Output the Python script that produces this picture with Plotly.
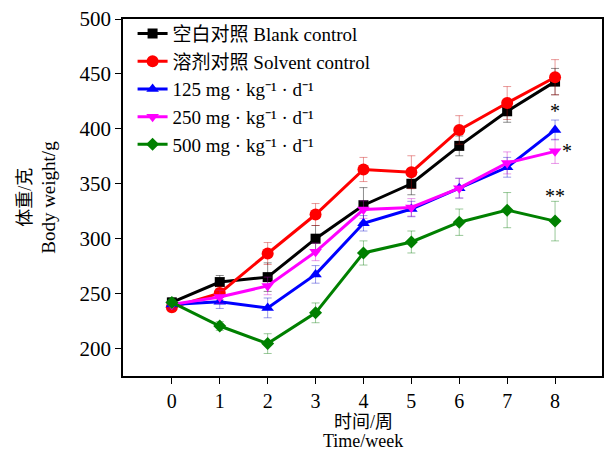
import plotly.graph_objects as go

weeks = [0, 1, 2, 3, 4, 5, 6, 7, 8]
x_tick_labels = ["0", "1", "2", "3", "4", "5", "6", "7", "8"]
y_tick_values = [200, 250, 300, 350, 400, 450, 500]

blank = [242, 260.5, 265, 300, 330.5, 350, 384.5, 416, 443]
blank_err = [4, 6, 13, 12, 16, 10, 9, 10, 12]
solvent = [237.5, 250.5, 286.5, 322, 363, 360.5, 399, 423.5, 447]
solvent_err = [4, 6, 10, 10, 11, 15, 13, 15, 16]
dose125 = [240, 242.5, 237, 267.5, 314, 327, 346, 365, 399]
dose125_err = [4, 6, 9, 8, 7, 7, 9, 9, 9]
dose250 = [240, 247, 257, 288, 326.5, 328.5, 346, 369, 379.5]
dose250_err = [4, 6, 8, 8, 8, 8, 9, 10, 11]
dose500 = [242, 220.5, 204.5, 232.5, 287, 297, 315, 326, 316]
dose500_err = [3, 4, 9, 9, 11, 10, 12, 16, 18]

names = [
    "空白对照 Blank control",
    "溶剂对照 Solvent control",
    "125 mg · kg⁻¹ · d⁻¹",
    "250 mg · kg⁻¹ · d⁻¹",
    "500 mg · kg⁻¹ · d⁻¹",
]
colors = ["#000000", "#ff0000", "#0000ff", "#ff00ff", "#008000"]
err_colors = ["rgba(0,0,0,0.45)", "rgba(200,0,0,0.4)", "rgba(0,0,200,0.4)",
              "rgba(200,0,200,0.4)", "rgba(0,120,0,0.4)"]
symbols = ["square", "circle", "triangle-up", "triangle-down", "diamond"]
sizes = [10, 12, 11, 11, 10]
series = [blank, solvent, dose125, dose250, dose500]
errs = [blank_err, solvent_err, dose125_err, dose250_err, dose500_err]

FONT = "Liberation Serif, Times New Roman, Noto Sans CJK SC, serif"

fig = go.Figure()
for name, ys, es, c, ec, sym, sz in zip(names, series, errs, colors, err_colors, symbols, sizes):
    fig.add_trace(go.Scatter(
        x=weeks, y=ys, name=name, mode="lines+markers",
        line=dict(color=c, width=3),
        marker=dict(symbol=sym, size=sz, color=c),
        error_y=dict(type="data", array=es, visible=True, color=ec, thickness=1, width=4),
    ))

# significance markers
sig_x = [8, 8, 8]
sig_y = [dose125[8] + 17, dose250[8], dose500[8] + 23]
sig_text = ["*", "*", "**"]
sig_xshift = [0, 12, 0]
for sx, sy, st, xs in zip(sig_x, sig_y, sig_text, sig_xshift):
    fig.add_annotation(x=sx, y=sy, text=st, showarrow=False, xshift=xs,
                       font=dict(family=FONT, size=20, color="black"))

# axis titles (two lines each)
fig.add_annotation(xref="paper", yref="paper", x=-0.206, y=0.5, xanchor="center",
                   yanchor="middle", textangle=-90,
                   text="体重/克", showarrow=False,
                   font=dict(family=FONT, size=18, color="black"))
fig.add_annotation(xref="paper", yref="paper", x=-0.156, y=0.5, xanchor="center",
                   yanchor="middle", textangle=-90,
                   text="Body weight/g", showarrow=False,
                   font=dict(family=FONT, size=19, color="black"))
fig.add_annotation(x=4, xref="x", yref="paper", y=-0.128, yanchor="middle",
                   text="时间/周", showarrow=False,
                   font=dict(family=FONT, size=18, color="black"))
fig.add_annotation(x=4, xref="x", yref="paper", y=-0.181, yanchor="middle",
                   text="Time/week", showarrow=False,
                   font=dict(family=FONT, size=18, color="black"))

fig.update_layout(
    width=609, height=452,
    margin=dict(l=123, r=5, t=19, b=76),
    plot_bgcolor="white", paper_bgcolor="white",
    font=dict(family=FONT, size=19, color="black"),
    showlegend=True,
    legend=dict(x=0.02, y=1.012, xanchor="left", yanchor="top",
                bgcolor="rgba(0,0,0,0)", font=dict(family=FONT, size=19),
                tracegroupgap=0, itemwidth=30),
    xaxis=dict(range=[-1.02, 8.98], tickvals=weeks, ticktext=x_tick_labels,
               showgrid=False, zeroline=False, showline=True, linecolor="black",
               linewidth=1.5, mirror=True, ticks="outside", ticklen=6,
               tickcolor="black", tickfont=dict(family=FONT, size=20)),
    yaxis=dict(range=[175, 500], tickvals=y_tick_values,
               showgrid=False, zeroline=False, showline=True, linecolor="black",
               linewidth=1.5, mirror=True, ticks="outside", ticklen=6,
               tickcolor="black", tickfont=dict(family=FONT, size=21)),
)

fig.write_html("out.html")
